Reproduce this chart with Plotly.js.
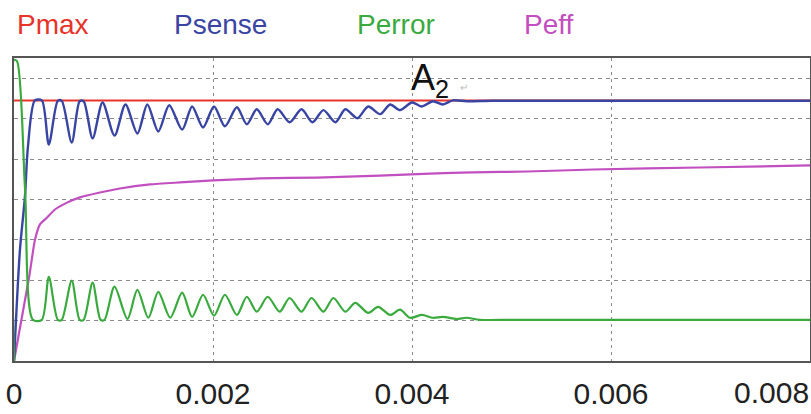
<!DOCTYPE html>
<html>
<head>
<meta charset="utf-8">
<script src="https://cdn.plot.ly/plotly-3.0.1.min.js"></script>
<style>
  html, body { margin: 0; padding: 0; background: #fff; }
  #chart { width: 811px; height: 414px; }
</style>
</head>
<body>
<div id="chart"></div>
<script>
// Time axis (s)
const xTickVals = [0, 0.002, 0.004, 0.006];
const xTickText = ['0', '0.002', '0.004', '0.006'];
const xEndLabel = '0.008';

// Pmax: constant reference level
const pmaxT = [0, 0.008];
const pmaxV = [6.45, 6.45];

// Psense: rise, damped ripple, then settles on Pmax
const psenseT = [0, 0.00006, 0.00011, 0.00014, 0.00021, 0.00028,
  0.00035, 0.00044, 0.00048, 0.00058, 0.00066, 0.00070, 0.00079, 0.00089, 0.00101, 0.00112,
  0.00124, 0.00134, 0.00145, 0.00156, 0.00169, 0.00179, 0.00190, 0.00201,
  0.00212, 0.00224, 0.00234, 0.00244, 0.00255, 0.00265, 0.00277, 0.00289,
  0.00300, 0.00311, 0.00323, 0.00333, 0.00345, 0.00356, 0.00368, 0.00378,
  0.00388, 0.00400, 0.00410, 0.00421, 0.00431, 0.00441, 0.00455, 0.00480,
  0.00520, 0.00560, 0.00600, 0.00640, 0.00680, 0.00720, 0.00760, 0.00800];
const psenseV = [0, 2.76, 4.07, 5.30, 6.45, 6.45,
  5.36, 6.44, 6.44, 5.41, 6.43, 6.43, 5.51, 6.40, 5.58, 6.35,
  5.63, 6.35, 5.68, 6.33, 5.73, 6.30, 5.78, 6.30,
  5.81, 6.28, 5.86, 6.23, 5.86, 6.23, 5.91, 6.23,
  5.91, 6.21, 5.91, 6.23, 6.01, 6.30, 6.11, 6.35,
  6.21, 6.40, 6.30, 6.43, 6.35, 6.45, 6.43, 6.44,
  6.44, 6.44, 6.44, 6.44, 6.44, 6.44, 6.44, 6.44];

// Perror: initial jump, fall, damped ripple, settles at 1
const perrorT = [0, 0, 0.00003, 0.00011, 0.00019, 0.00028,
  0.00035, 0.00044, 0.00048, 0.00058, 0.00066, 0.00070, 0.00079, 0.00087, 0.00091, 0.00101, 0.00114,
  0.00124, 0.00135, 0.00145, 0.00157, 0.00169, 0.00179, 0.00190, 0.00201,
  0.00212, 0.00224, 0.00234, 0.00244, 0.00255, 0.00267, 0.00277, 0.00289,
  0.00299, 0.00311, 0.00321, 0.00333, 0.00343, 0.00356, 0.00366, 0.00378,
  0.00388, 0.00398, 0.00410, 0.00421, 0.00431, 0.00445, 0.00455, 0.00468,
  0.00500, 0.00540, 0.00580, 0.00620, 0.00660, 0.00700, 0.00740, 0.00780, 0.00800];
const perrorV = [0, 7.45, 7.42, 4.30, 1.02, 1.02,
  2.08, 1.02, 1.02, 1.99, 1.02, 1.02, 1.94, 1.02, 1.02, 1.84, 1.04,
  1.76, 1.07, 1.71, 1.07, 1.69, 1.09, 1.64, 1.12,
  1.64, 1.14, 1.59, 1.22, 1.59, 1.22, 1.56, 1.22,
  1.56, 1.22, 1.56, 1.22, 1.44, 1.19, 1.34, 1.14,
  1.27, 1.07, 1.14, 1.07, 1.09, 1.04, 1.07, 1.02,
  1.02, 1.02, 1.02, 1.02, 1.02, 1.02, 1.02, 1.02, 1.02];

// Peff: fast rise then slow creep upward
const peffT = [0, 0.000151, 0.000211, 0.000261, 0.000332, 0.000412, 0.000533,
  0.000663, 0.000864, 0.001065, 0.001367, 0.001668, 0.002000, 0.002472,
  0.003045, 0.003678, 0.004181, 0.004613, 0.005156, 0.005819, 0.006894, 0.008];
const peffV = [0, 2.06, 3.00, 3.38, 3.55, 3.75, 3.92,
  4.05, 4.17, 4.27, 4.37, 4.42, 4.47, 4.52,
  4.54, 4.59, 4.64, 4.67, 4.69, 4.74, 4.79, 4.84];

const seriesNames = ['Pmax', 'Psense', 'Perror', 'Peff'];
const seriesColors = ['#e8332b', '#3a45a3', '#3aaa3f', '#c24fc0'];
const labelX = [15, 172, 355, 522];

const FONT = 'Liberation Sans, Arial, sans-serif';

const traces = [
  { x: pmaxT, y: pmaxV, mode: 'lines', name: seriesNames[0],
    line: { color: seriesColors[0], width: 2 } },
  { x: peffT, y: peffV, mode: 'lines', name: seriesNames[3],
    line: { color: seriesColors[3], width: 2.2, shape: 'spline', smoothing: 0.6 } },
  { x: psenseT, y: psenseV, mode: 'lines', name: seriesNames[1],
    line: { color: seriesColors[1], width: 2.4, shape: 'spline', smoothing: 0.8 } },
  { x: perrorT, y: perrorV, mode: 'lines', name: seriesNames[2],
    line: { color: seriesColors[2], width: 2.2, shape: 'spline', smoothing: 0.8 } }
];

const annotations = seriesNames.map((n, i) => ({
  text: n, xref: 'paper', yref: 'paper',
  x: (labelX[i] - 14) / 796, y: 1 + (58 - 25) / 303,
  xanchor: 'left', yanchor: 'middle', showarrow: false,
  font: { family: FONT, size: 28, color: seriesColors[i] }
}));

annotations.push({
  text: xEndLabel, xref: 'paper', yref: 'paper',
  x: 1 + 1 / 796, y: -(392 - 361) / 303,
  xanchor: 'right', yanchor: 'middle', showarrow: false,
  font: { family: FONT, size: 30, color: '#222' }
});

annotations.push({
  text: 'A<sub>2</sub>', xref: 'x', yref: 'paper',
  x: 0.004, y: 1 - (80 - 58) / 303,
  xanchor: 'left', yanchor: 'middle', showarrow: false,
  xshift: -3,
  font: { family: FONT, size: 36, color: '#111' }
});

annotations.push({
  text: '↵', xref: 'x', yref: 'paper',
  x: 0.00446, y: 1 - (87 - 58) / 303,
  xanchor: 'left', yanchor: 'middle', showarrow: false,
  font: { family: FONT, size: 10, color: '#bbb' }
});

const layout = {
  width: 811, height: 414,
  margin: { l: 14, r: 1, t: 58, b: 53 },
  paper_bgcolor: '#fff', plot_bgcolor: '#fff',
  showlegend: false,
  xaxis: {
    range: [0, 0.008], tickvals: xTickVals, ticktext: xTickText,
    showgrid: true, gridcolor: '#8a8a8a', gridwidth: 1, griddash: '3px,4px',
    zeroline: false, showline: true, mirror: true,
    linecolor: '#555', linewidth: 2, ticks: '',
    tickfont: { family: FONT, size: 30, color: '#222' },
    ticklabelstandoff: 5,
    ticklabeloverflow: 'allow'
  },
  yaxis: {
    range: [0, 7.5], dtick: 1, showticklabels: false,
    showgrid: true, gridcolor: '#8a8a8a', gridwidth: 1, griddash: '4px,4px',
    zeroline: false, showline: true, mirror: true,
    linecolor: '#555', linewidth: 2, ticks: ''
  },
  annotations: annotations
};

Plotly.newPlot('chart', traces, layout, { staticPlot: true, displayModeBar: false });
</script>
</body>
</html>
